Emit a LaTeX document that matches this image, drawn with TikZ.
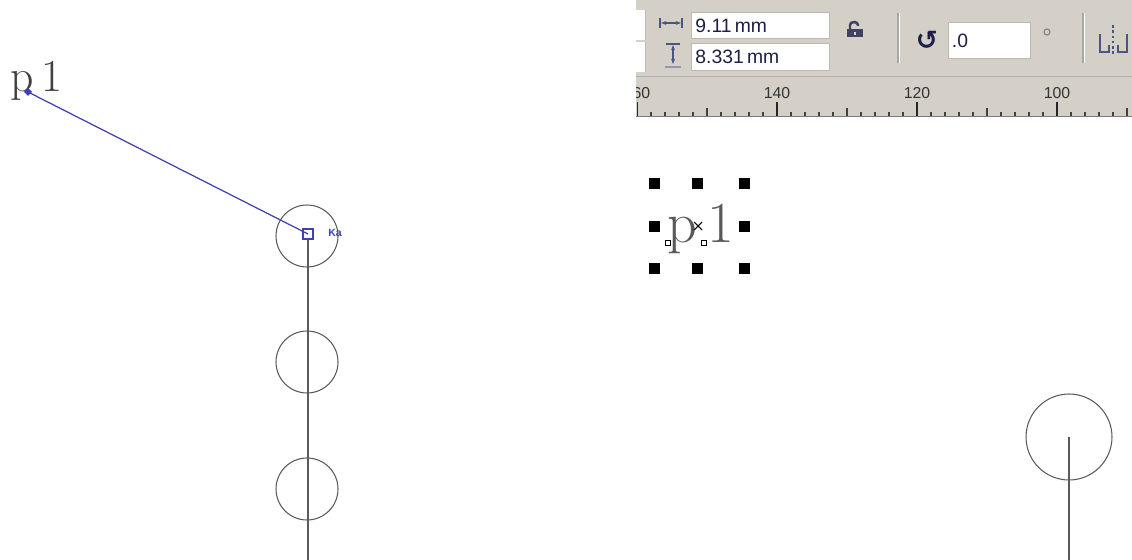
\documentclass[tikz,border=0pt]{standalone}
\usepackage{fontspec}
\newfontfamily\uifont{Liberation Sans}
\newfontfamily\symfont{DejaVu Sans}
\usetikzlibrary{arrows.meta}
\definecolor{tbgray}{HTML}{D4D0C8}
\definecolor{linegray}{HTML}{5A5A5A}
\definecolor{selblue}{HTML}{4040B0}
\definecolor{uitext}{HTML}{1E1E46}
\definecolor{rulerdark}{HTML}{7A7A7A}
\definecolor{iconblue}{HTML}{4A5680}
\definecolor{boxedge}{HTML}{BDB9B0}
\begin{document}
\begin{tikzpicture}[x=0.02cm,y=-0.02cm,
  ring/.style={circle, draw=linegray, line width=0.6pt, inner sep=0pt, minimum size=1.24cm},
  bigring/.style={circle, draw=linegray, line width=0.6pt, inner sep=0pt, minimum size=1.72cm},
  stem/.style={draw=linegray, line width=0.7pt},
  handle/.style={rectangle, fill=black, inner sep=0pt, minimum size=0.22cm},
  hollow/.style={rectangle, draw=black, fill=white, line width=0.4pt, inner sep=0pt, minimum size=0.11cm},
  fieldbox/.style={rectangle, draw=boxedge, fill=white, line width=0.5pt, anchor=north west, inner xsep=1.5pt, inner ysep=0pt, font=\uifont\fontsize{11}{12}\selectfont, text=uitext, align=left},
  rulernum/.style={font=\uifont\fontsize{9}{10}\selectfont, text=black!80, inner sep=0pt},
  bigtext/.style={font=\fontsize{26}{30}\selectfont, text=black!75, inner sep=0pt, anchor=base west},
  sep/.style={draw=black!35, line width=0.8pt}
]
\useasboundingbox (0,0) rectangle (1132,560);
\fill[white] (0,0) rectangle (1132,560);

% ---------- left panel ----------
\node[bigtext] (p1a) at (10,92) {p\kern0.15cm 1};
\coordinate (p1end) at (28,92);
\fill[selblue] (28,88) -- (32,92) -- (28,96) -- (24,92) -- cycle;
\node[ring] (c1) at (307,236) {};
\node[ring] (c2) at (307,362) {};
\node[ring] (c3) at (307,489) {};
\node[rectangle, draw=selblue, line width=0.7pt, inner sep=0pt, minimum size=0.2cm] (sq) at (308,234) {};
\node[text=selblue, font=\uifont\bfseries\fontsize{6}{6}\selectfont, inner sep=0pt] (ka) at (335,233) {Ka};
\coordinate (bot1) at (308,560);
\draw[stem] (sq.south) -- (bot1);
\draw[selblue, line width=0.7pt] (p1end) -- (sq.center);

% ---------- toolbar ----------
\fill[tbgray] (636,0) rectangle (1132,117);
\draw[black!30, line width=0.5pt] (636,76.5) -- (1132,76.5);
\draw[rulerdark, line width=1pt] (636,116.5) -- (1132,116.5);
% partial boxes at left edge
\fill[white] (636,10) rectangle (645,40);
\draw[boxedge] (645,10) -- (645,40);
\fill[white] (636,42) rectangle (645,72);
\draw[boxedge] (645,42) -- (645,72);
% width / height fields
\node[fieldbox, minimum width=2.76cm, minimum height=0.52cm, text width=2.6cm] (wbox) at (691,12) {9.11\,mm};
\node[fieldbox, minimum width=2.76cm, minimum height=0.54cm, text width=2.6cm] (hbox) at (691,43) {8.331\,mm};
% width icon
\draw[iconblue, line width=1pt] (660,18) -- (660,28) (682,18) -- (682,28);
\draw[iconblue, line width=0.9pt, {Stealth[length=3pt]}-{Stealth[length=3pt]}] (661,23) -- (681,23);
% height icon
\draw[iconblue, line width=1pt] (666,44) -- (680,44);
\draw[iconblue!60, line width=1.5pt] (665,67) -- (681,67);
\draw[iconblue, line width=0.9pt, {Stealth[length=3pt]}-{Stealth[length=3pt]}] (673,45) -- (673,64);
% lock icon
\fill[uitext!85] (847,29) rectangle (863,37);
\draw[uitext!85, line width=1.4pt] (850,29) -- (850,25) arc[start angle=180, end angle=0, x radius=4, y radius=-3] -- (858,26);
\fill[tbgray] (854,32) rectangle (856,35);
% separator 1
\draw[sep] (898,13) -- (898,63);
\draw[white, line width=0.6pt] (899.5,13) -- (899.5,63);
% rotation icon
\node[font=\symfont\bfseries\fontsize{15}{15}\selectfont, text=uitext, inner sep=0pt] (rot) at (927,40) {↺};
% rotation field
\node[fieldbox, minimum width=1.64cm, minimum height=0.72cm, text width=1.5cm] (rbox) at (948,22) {.0};
% degree symbol
\draw[black!50, line width=0.6pt] (1047,32) circle[radius=3];
% separator 2
\draw[sep] (1083,13) -- (1083,63);
\draw[white, line width=0.6pt] (1084.5,13) -- (1084.5,63);
% align icon
\draw[iconblue, line width=1.2pt] (1100,34) -- (1100,52) -- (1109,52) -- (1109,45);
\draw[iconblue, line width=1.2pt] (1127,34) -- (1127,52) -- (1118,52) -- (1118,45);
\draw[iconblue, line width=0.8pt, dash pattern=on 1.5pt off 1.5pt] (1113,25) -- (1113,56);

% ruler numbers
\begin{scope}
\clip (636,78) rectangle (1132,116);
\node[rulernum] (n160) at (637,93) {160};
\end{scope}
\node[rulernum] (n140) at (777,93) {140};
\node[rulernum] (n120) at (917,93) {120};
\node[rulernum] (n100) at (1057,93) {100};
% ruler ticks
\foreach \x in {651,665,...,1131} \draw[black!75, line width=0.8pt] (\x,116) -- (\x,112);
\foreach \x in {707,847,987,1127} \draw[black!75, line width=0.8pt] (\x,116) -- (\x,108);
\foreach \x in {637.5,777,917,1057} \draw[black!85, line width=0.9pt] (\x,116) -- (\x,102);

% ---------- selected p1 on right ----------
\node[font=\fontsize{33}{38}\selectfont, text=black!65, inner sep=0pt, anchor=base west] (p1b) at (667,243) {p\kern0.22cm 1};
\node[handle] (h1) at (654,184) {};
\node[handle] (h2) at (697,184) {};
\node[handle] (h3) at (744,184) {};
\node[handle] (h4) at (654,227) {};
\node[handle] (h5) at (744,227) {};
\node[handle] (h6) at (654,269) {};
\node[handle] (h7) at (697,269) {};
\node[handle] (h8) at (744,269) {};
\node[hollow] (o1) at (668,243) {};
\node[hollow] (o2) at (704,243) {};
\draw[black, line width=0.6pt] (694,222) -- (702,230) (694,230) -- (702,222);

% ---------- right circle ----------
\node[bigring] (c4) at (1069,437) {};
\coordinate (bot2) at (1069,560);
\draw[stem] (c4.center) -- (bot2);
\end{tikzpicture}
\end{document}
